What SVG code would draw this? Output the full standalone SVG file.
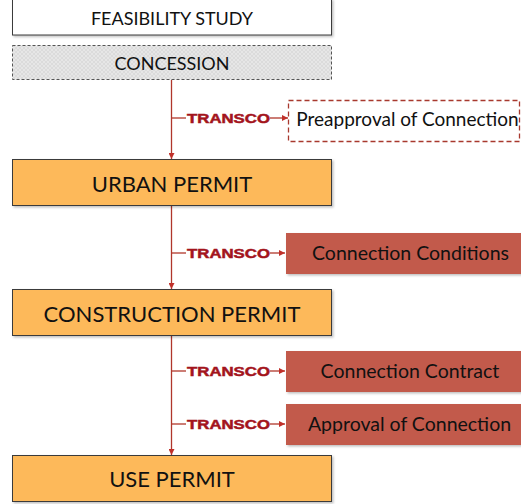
<svg xmlns="http://www.w3.org/2000/svg" width="521" height="504" viewBox="0 0 521 504">
<style>
.box{stroke:#3a3a3a;stroke-width:1}
.perm{fill:#FDB95A}
.cond{fill:#C25A4B;stroke:none}
.t{font-family:Lato,"Open Sans",sans-serif;fill:#111;text-anchor:middle}
.big{font-size:22px}
.mid{font-size:18px}
.red{font-size:19.5px}
.tr{font-family:"Liberation Sans",Arial,sans-serif;font-weight:bold;font-size:13.5px;fill:#A3141C;stroke:#A3141C;stroke-width:0.5}
.ln{stroke:#B0362B;stroke-width:1.3;fill:none}
</style>
<defs>
<marker id="ah" viewBox="0 0 10 10" refX="10" refY="5" markerWidth="6" markerHeight="6" orient="auto" markerUnits="userSpaceOnUse">
<path d="M0,0 L10,5 L0,10 z" fill="#C0302A"/>
</marker>
<pattern id="hatch" width="4" height="4" patternUnits="userSpaceOnUse">
<rect width="4" height="4" fill="#E6E6E6"/>
<path d="M0,4 L4,0 M0,0 L4,4" stroke="#D4D4D4" stroke-width="0.6"/>
</pattern>
<filter id="sh" x="-5%" y="-10%" width="115%" height="130%">
<feDropShadow dx="1.5" dy="1.5" stdDeviation="1" flood-color="#000" flood-opacity="0.25"/>
</filter>
</defs>

<g id="connectors">
<line class="ln" x1="171.5" y1="80" x2="171.5" y2="159" marker-end="url(#ah)"/>
<line class="ln" x1="171.5" y1="206" x2="171.5" y2="289" marker-end="url(#ah)"/>
<line class="ln" x1="171.5" y1="336" x2="171.5" y2="455" marker-end="url(#ah)"/>
<line class="ln" x1="171.5" y1="118" x2="186" y2="118"/>
<line class="ln" x1="270" y1="118" x2="288" y2="118" marker-end="url(#ah)"/>
<line class="ln" x1="171.5" y1="253" x2="186" y2="253"/>
<line class="ln" x1="270" y1="253" x2="285" y2="253" marker-end="url(#ah)"/>
<line class="ln" x1="171.5" y1="371" x2="186" y2="371"/>
<line class="ln" x1="270" y1="371" x2="285" y2="371" marker-end="url(#ah)"/>
<line class="ln" x1="171.5" y1="424" x2="186" y2="424"/>
<line class="ln" x1="270" y1="424" x2="285" y2="424" marker-end="url(#ah)"/>
<text class="tr" x="187" y="122.5" textLength="83" lengthAdjust="spacingAndGlyphs">TRANSCO</text>
<text class="tr" x="187" y="257.5" textLength="83" lengthAdjust="spacingAndGlyphs">TRANSCO</text>
<text class="tr" x="187" y="375.5" textLength="83" lengthAdjust="spacingAndGlyphs">TRANSCO</text>
<text class="tr" x="187" y="428.5" textLength="83" lengthAdjust="spacingAndGlyphs">TRANSCO</text>
</g>

<g id="feasibility">
<rect class="box" x="12.5" y="-1" width="319" height="36" fill="#fff" filter="url(#sh)"/>
<text class="t mid" x="172" y="25">FEASIBILITY STUDY</text>
</g>

<g id="concession">
<rect x="12.5" y="45.5" width="319" height="34" fill="url(#hatch)" stroke="#555" stroke-width="1" stroke-dasharray="3,2"/>
<text class="t mid" x="172" y="70">CONCESSION</text>
</g>

<g id="preapproval">
<rect x="288.5" y="100.5" width="231" height="41" fill="#fff" stroke="#A8392E" stroke-width="1.3" stroke-dasharray="5,3"/>
<text class="t" x="407.5" y="126" font-size="19">Preapproval of Connection</text>
</g>

<g id="urban">
<rect class="box perm" x="12.5" y="159.5" width="319" height="46" filter="url(#sh)"/>
<text class="t big" x="172" y="192">URBAN PERMIT</text>
</g>

<g id="conditions">
<rect class="cond" x="286" y="233" width="240" height="41" filter="url(#sh)"/>
<text class="t red" x="410.5" y="260">Connection Conditions</text>
</g>

<g id="construction">
<rect class="box perm" x="12.5" y="289.5" width="319" height="46" filter="url(#sh)"/>
<text class="t big" x="172" y="322">CONSTRUCTION PERMIT</text>
</g>

<g id="contract">
<rect class="cond" x="286" y="351" width="240" height="41" filter="url(#sh)"/>
<text class="t red" x="410" y="378">Connection Contract</text>
</g>

<g id="approval">
<rect class="cond" x="286" y="404" width="240" height="41" filter="url(#sh)"/>
<text class="t red" x="409.5" y="431">Approval of Connection</text>
</g>

<g id="use">
<rect class="box perm" x="12.5" y="455.5" width="319" height="46" filter="url(#sh)"/>
<text class="t big" x="172" y="487">USE PERMIT</text>
</g>
</svg>
